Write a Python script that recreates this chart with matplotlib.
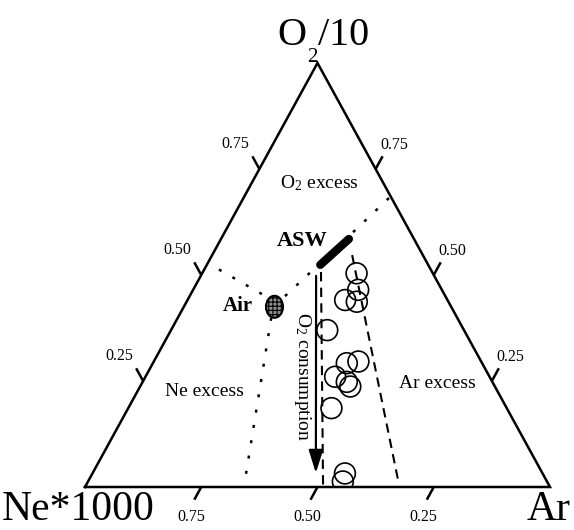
import matplotlib
matplotlib.use('Agg')
import matplotlib.pyplot as plt
from matplotlib.patches import Ellipse
from matplotlib.transforms import offset_copy
import numpy as np

plt.rcParams['font.family'] = ['Liberation Serif', 'DejaVu Serif']
plt.rcParams['mathtext.fontset'] = 'custom'
plt.rcParams['mathtext.rm'] = 'Liberation Serif'
plt.rcParams['mathtext.it'] = 'Liberation Serif:italic'
plt.rcParams['mathtext.bf'] = 'Liberation Serif:bold'
plt.rcParams['hatch.linewidth'] = 0.8

# ---- data: ternary fractions (O2/10, Ar); Ne*1000 = 1 - O2 - Ar ----
sample_o2 = [0.504, 0.465, 0.441, 0.437, 0.370, 0.292, 0.296, 0.260, 0.248, 0.237, 0.186, 0.032, 0.013]
sample_ar = [0.332, 0.355, 0.339, 0.366, 0.336, 0.417, 0.440, 0.408, 0.439, 0.452, 0.437, 0.543, 0.548]

asw_o2 = [0.524, 0.585]
asw_ar = [0.244, 0.275]
air_o2 = 0.425
air_ar = 0.195

arrow_o2 = [0.498, 0.033]
arrow_ar = [0.248, 0.480]

dash1_o2 = [0.507, 0.0]
dash1_ar = [0.254, 0.512]
dash2_o2 = [0.547, 0.0165]
dash2_ar = [0.301, 0.665]

dot_asw_edge_o2 = [0.601, 0.684]
dot_asw_edge_ar = [0.276, 0.314]
dot_asw_air_o2 = [0.505, 0.446]
dot_asw_air_ar = [0.231, 0.203]
dot_air_ne_o2 = [0.455, 0.528]
dot_air_ne_ar = [0.153, 0.0]
dot_air_base_o2 = [0.399, 0.005]
dot_air_base_ar = [0.201, 0.340]

tick_values = [0.25, 0.50, 0.75]
tick_labels = ['0.25', '0.50', '0.75']


def to_xy(o2, ar):
    o2 = np.asarray(o2, dtype=float)
    ar = np.asarray(ar, dtype=float)
    return ar + o2 / 2.0, o2


W, H = 574, 530
fig = plt.figure(figsize=(W / 100, H / 100), dpi=100)
ax = fig.add_axes([85 / W, 43 / H, 465 / W, 424 / H])
ax.set_xlim(0, 1)
ax.set_ylim(0, 1)
ax.axis('off')

# triangle
ax.plot([0, 1, 0.5, 0], [0, 0, 1, 0], color='k', lw=1.8, solid_joinstyle='miter', clip_on=False)

tl = 0.03
tick_kw = dict(color='k', lw=1.8, clip_on=False, solid_capstyle='butt')
lab_kw = dict(fontsize=11.5, clip_on=False)
for v, lab in zip(tick_values, tick_labels):
    # bottom axis (label = Ne fraction)
    bx, by = 1 - v, 0.0
    ex, ey = bx - 0.5 * tl, by - tl
    ax.plot([bx, ex], [by, ey], **tick_kw)
    tr = offset_copy(ax.transData, fig=fig, x=-3, y=-9, units='dots')
    ax.text(ex, ey, lab, ha='center', va='top', transform=tr, **lab_kw)
    # left axis
    lx, ly = v / 2, v
    ex, ey = lx - 0.5 * tl, ly + tl
    ax.plot([lx, ex], [ly, ey], **tick_kw)
    tr = offset_copy(ax.transData, fig=fig, x=-3, y=4, units='dots')
    ax.text(ex, ey, lab, ha='right', va='bottom', transform=tr, **lab_kw)
    # right axis
    rx, ry = 1 - v / 2, v
    ex, ey = rx + 0.5 * tl, ry + tl
    ax.plot([rx, ex], [ry, ey], **tick_kw)
    tr = offset_copy(ax.transData, fig=fig, x=-2, y=3, units='dots')
    ax.text(ex, ey, lab, ha='left', va='bottom', transform=tr, **lab_kw)

# dotted boundaries
dot_style = dict(color='k', lw=1.8, linestyle=(0, (1.2, 5.0)), dash_capstyle='butt')
for o2s, ars in [(dot_asw_edge_o2, dot_asw_edge_ar), (dot_asw_air_o2, dot_asw_air_ar),
                 (dot_air_ne_o2, dot_air_ne_ar), (dot_air_base_o2, dot_air_base_ar)]:
    x, y = to_xy(o2s, ars)
    ax.plot(x, y, **dot_style)

# dashed lines
dash_style = dict(color='k', lw=1.5, linestyle=(0, (4.5, 3.0)))
for o2s, ars in [(dash1_o2, dash1_ar), (dash2_o2, dash2_ar)]:
    x, y = to_xy(o2s, ars)
    ax.plot(x, y, **dash_style)

# ASW bar
x, y = to_xy(asw_o2, asw_ar)
ax.plot(x, y, color='k', lw=6, solid_capstyle='round')

# Air ellipse
axx, axy = to_xy(air_o2, air_ar)
ell = Ellipse((float(axx), float(axy)), width=17 / 465, height=22 / 424,
              facecolor='0.55', edgecolor='k', lw=1.5, hatch='++++')
ax.add_patch(ell)

# O2 consumption arrow
x, y = to_xy(arrow_o2, arrow_ar)
ax.annotate('', xy=(x[1], y[1]), xytext=(x[0], y[0]),
            arrowprops=dict(arrowstyle='-|>,head_length=0.7,head_width=0.22',
                            mutation_scale=20, color='k', lw=1.6,
                            shrinkA=0, shrinkB=0))

# samples
x, y = to_xy(sample_o2, sample_ar)
ax.scatter(x, y, s=225, facecolors='none', edgecolors='k', linewidths=1.2, zorder=5)


def px(xp, yp):
    return xp / W, 1 - yp / H


# region labels
fig.text(*px(319, 183), r'O$_{\mathrm{2}}$ excess', ha='center', va='center', fontsize=14)
fig.text(*px(204, 392), 'Ne excess', ha='center', va='center', fontsize=14)
fig.text(*px(437, 383), 'Ar excess', ha='center', va='center', fontsize=14)
fig.text(*px(302, 241), 'ASW', ha='center', va='center', fontsize=16, fontweight='bold')
fig.text(*px(238, 306), 'Air', ha='center', va='center', fontsize=15, fontweight='bold')
fig.text(*px(302, 376), r'O$_{\mathrm{2}}$ consumption', ha='center', va='center',
         fontsize=14, rotation=-90)

# top corner label: O, lowered subscript 2, /10
fig.text(*px(306, 45), 'O', ha='right', va='baseline', fontsize=29)
fig.text(*px(312, 62), '2', ha='center', va='baseline', fontsize=15)
fig.text(*px(318, 45), '/10', ha='left', va='baseline', fontsize=29)

# bottom corner labels
fig.text(*px(2, 529.5), 'Ne*1000', ha='left', va='bottom', fontsize=30)
fig.text(*px(527, 529.5), 'Ar', ha='left', va='bottom', fontsize=30)

fig.savefig('out.png', dpi=100)
